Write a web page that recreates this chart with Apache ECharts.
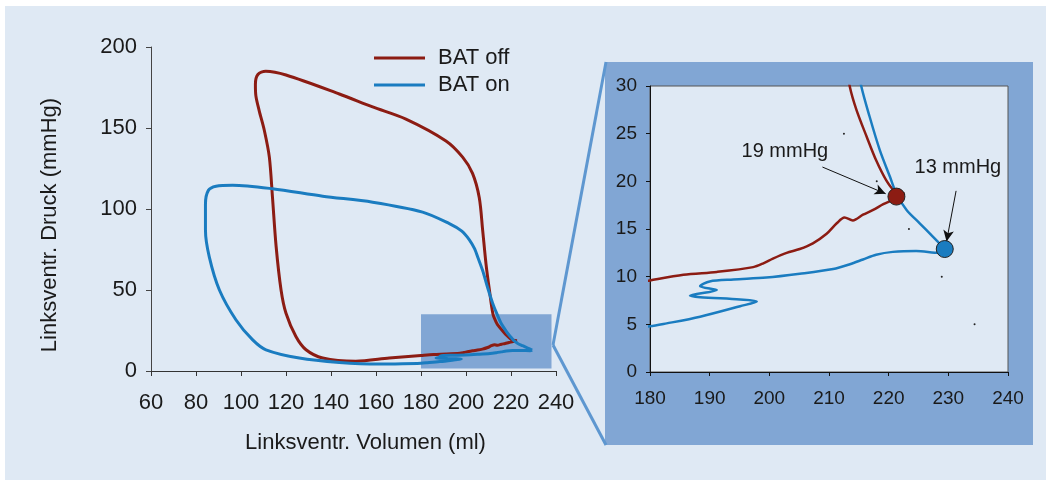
<!DOCTYPE html>
<html><head><meta charset="utf-8">
<script src="https://cdn.jsdelivr.net/npm/echarts@6/dist/echarts.min.js"></script>
<style>html,body{margin:0;padding:0;background:#fff}#c{width:1047px;height:480px}</style>
</head><body><div id="c"></div>
<script>
// BAT off loop (volume ml, pressure mmHg), time order from end-diastole
const offVolume = [222.7,221.0,219.6,217.9,216.3,214.6,213.5,212.0,210.4,208.9,207.4,205.9,202.9,198.5,191.1,173.3,158.5,143.7,120.0,111.0,107.5,106.4,106.6,108.1,110.4,112.6,114.0,115.6,117.8,120.0,124.4,128.9,136.3,151.0,165.9,180.0,185.6,191.2,197.3,199.0,200.6,202.9,205.1,207.3,209.6,211.3,212.6,214.0,215.7,217.4,219.1,220.5,222.7];
const offPressure = [18.7,19.0,20.1,22.2,24.7,27.5,29.9,35.0,50.0,66.0,87.0,107.0,122.0,132.0,142.0,155.5,163.0,171.0,182.7,185.0,183.0,177.0,170.0,160.6,148.3,132.0,107.0,77.0,50.0,35.6,21.3,13.1,8.0,6.0,8.0,9.6,10.2,10.5,11.0,11.4,11.9,12.5,12.9,13.5,14.5,15.6,16.2,15.9,16.5,17.0,17.6,18.0,18.7];
// BAT on loop
const onVolume = [229.4,227.4,225.2,223.0,221.3,220.2,218.5,216.8,215.4,213.5,211.8,209.5,207.4,205.2,203.8,201.5,198.0,192.6,180.7,158.5,136.3,114.0,96.3,88.9,85.5,84.2,84.2,85.9,90.4,97.8,105.2,111.1,125.9,143.7,161.5,172.0,180.0,182.8,188.4,195.1,197.9,195.1,188.4,186.7,191.2,188.4,190.0,194.0,199.5,205.1,210.7,213.5,215.7,217.9,220.7,224.6,228.5,229.4];
const onPressure = [12.9,14.2,15.6,17.0,18.7,20.5,23.3,26.8,30.0,36.0,42.0,52.0,62.0,70.4,75.5,81.0,86.5,91.0,98.1,104.2,107.9,112.5,114.7,114.1,111.5,103.0,87.0,70.4,50.0,31.5,19.2,13.1,8.0,5.3,4.3,4.5,4.8,5.1,5.8,6.9,7.4,7.6,7.85,8.0,8.6,9.0,9.5,9.7,9.9,10.3,10.8,11.3,11.8,12.3,12.6,12.7,12.5,12.9];
// end-diastolic points
const edVolume = [221.3, 229.4];
const edPressure = [18.4, 12.9];
const edLabels = ['19 mmHg', '13 mmHg'];
const labelVolume = [202.6, 231.6];
const labelPressure = [23.1, 21.5];
const arrowFromVolume = [208.9, 231.3];
const arrowFromPressure = [21.5, 19.0];
const arrowToVolume = [219.5, 229.7];
const arrowToPressure = [18.7, 13.7];
// small specks in inset
const speckVolume = [212.5, 218.0, 223.4, 228.9, 234.4];
const speckPressure = [25.0, 20.0, 15.0, 10.0, 5.0];
// zoom window in main chart
const zoomVolume = [180, 238];
const zoomPressure = [1.5, 35];

const RED = '#8c1c13', BLUE = '#1a7cc0', FONT = 'Liberation Sans, Arial, sans-serif';
const zip = (a, b) => a.map((v, i) => [v, b[i]]);

const chart = echarts.init(document.getElementById('c'), null, {renderer: 'canvas'});
const tickStyle = (size) => ({color: '#1a1a1a', fontSize: size, fontFamily: FONT});
chart.setOption({
  animation: false,
  backgroundColor: '#ffffff',
  textStyle: {fontFamily: FONT},
  graphic: [
    {type: 'rect', z: -20, shape: {x: 5, y: 6, width: 1041, height: 474}, style: {fill: '#dfe9f4'}},
    {type: 'rect', z: -10, shape: {x: 605, y: 62, width: 428, height: 383}, style: {fill: '#81a6d4'}},
    {type: 'line', z: -5, shape: {x1: 553, y1: 345, x2: 606, y2: 62}, style: {stroke: '#5e97d0', lineWidth: 3}},
    {type: 'line', z: -5, shape: {x1: 553, y1: 345, x2: 606, y2: 445}, style: {stroke: '#5e97d0', lineWidth: 3}}
  ],
  legend: {
    data: ['BAT off', 'BAT on'], orient: 'vertical', left: 374, top: 47, padding: 0,
    icon: 'rect', itemWidth: 51, itemHeight: 3, itemGap: 5,
    textStyle: {fontSize: 22, color: '#1a1a1a', fontFamily: FONT, padding: [0, 0, 0, 8]}
  },
  grid: [
    {left: 151, top: 47, width: 405, height: 324},
    {left: 650, top: 86, width: 358, height: 286, show: true, backgroundColor: '#dfe9f4', borderColor: '#555', borderWidth: 1}
  ],
  xAxis: [
    {type: 'value', gridIndex: 0, min: 60, max: 240, interval: 20,
     name: 'Linksventr. Volumen (ml)', nameLocation: 'middle', nameGap: 61,
     nameTextStyle: {fontSize: 22, color: '#1a1a1a', fontFamily: FONT, padding: [0, 0, 0, 24]},
     axisLine: {lineStyle: {color: '#333', width: 1}}, axisTick: {length: 5, lineStyle: {color: '#333'}},
     axisLabel: Object.assign({margin: 21}, tickStyle(22)), splitLine: {show: false}},
    {type: 'value', gridIndex: 1, min: 180, max: 240, interval: 10,
     axisLine: {lineStyle: {color: '#111', width: 1}}, axisTick: {length: 4, lineStyle: {color: '#111'}},
     axisLabel: Object.assign({margin: 17}, tickStyle(19)), splitLine: {show: false}},
  ],
  yAxis: [
    {type: 'value', gridIndex: 0, min: 0, max: 200, interval: 50,
     name: 'Linksventr. Druck (mmHg)', nameLocation: 'middle', nameGap: 90,
     nameTextStyle: {fontSize: 22, color: '#1a1a1a', fontFamily: FONT, padding: [0, 32, 0, 0]},
     axisLine: {show: true, lineStyle: {color: '#444', width: 1}}, axisTick: {show: true, length: 5, lineStyle: {color: '#444'}},
     axisLabel: Object.assign({margin: 14}, tickStyle(22)), splitLine: {show: false}},
    {type: 'value', gridIndex: 1, min: 0, max: 30, interval: 5,
     axisLine: {show: true, lineStyle: {color: '#111', width: 1}}, axisTick: {show: true, length: 4, lineStyle: {color: '#111'}},
     axisLabel: Object.assign({margin: 13}, tickStyle(19)), splitLine: {show: false}}
  ],
  series: [
    {type: 'line', name: 'BAT off', xAxisIndex: 0, yAxisIndex: 0, data: zip(offVolume, offPressure),
     showSymbol: false, smooth: 0.3, lineStyle: {color: RED, width: 3}, itemStyle: {color: RED}, z: 3,
     markArea: {silent: true, itemStyle: {color: '#81a6d4', opacity: 1},
       data: [[{coord: [zoomVolume[0], zoomPressure[0]]}, {coord: [zoomVolume[1], zoomPressure[1]]}]]}},
    {type: 'line', name: 'BAT on', xAxisIndex: 0, yAxisIndex: 0, data: zip(onVolume, onPressure),
     showSymbol: false, smooth: 0.3, lineStyle: {color: BLUE, width: 3}, itemStyle: {color: BLUE}, z: 3},
    {type: 'line', name: 'BAT off', xAxisIndex: 1, yAxisIndex: 1, data: zip(offVolume, offPressure),
     showSymbol: false, smooth: 0.3, clip: true, lineStyle: {color: RED, width: 2.5}, itemStyle: {color: RED}, z: 3},
    {type: 'line', name: 'BAT on', xAxisIndex: 1, yAxisIndex: 1, data: zip(onVolume, onPressure),
     showSymbol: false, smooth: 0.3, clip: true, lineStyle: {color: BLUE, width: 2.5}, itemStyle: {color: BLUE}, z: 3},
    {type: 'scatter', name: 'specks', xAxisIndex: 1, yAxisIndex: 1, data: zip(speckVolume, speckPressure),
     symbolSize: 2, itemStyle: {color: '#222', opacity: 1}, silent: true, z: 2},
    {type: 'scatter', name: 'ed', xAxisIndex: 1, yAxisIndex: 1, z: 5,
     data: edVolume.map((v, i) => ({value: [v, edPressure[i]], itemStyle: {color: i === 0 ? RED : BLUE, opacity: 1, borderColor: '#222', borderWidth: 1}})),
     symbolSize: 17, itemStyle: {opacity: 1, borderColor: '#222', borderWidth: 1},
     markLine: {silent: true, symbol: ['none', 'arrow'], symbolSize: [8, 11], label: {show: false},
       lineStyle: {color: '#111', width: 1, type: 'solid', opacity: 1},
       data: arrowFromVolume.map((v, i) => [{coord: [v, arrowFromPressure[i]]}, {coord: [arrowToVolume[i], arrowToPressure[i]]}])}},
    {type: 'scatter', name: 'labels', xAxisIndex: 1, yAxisIndex: 1, z: 6, symbolSize: 1,
     itemStyle: {color: 'rgba(0,0,0,0)', opacity: 1},
     data: labelVolume.map((v, i) => ({value: [v, labelPressure[i]], name: edLabels[i]})),
     label: {show: true, position: 'inside', formatter: p => p.name, fontSize: 20, color: '#1a1a1a', fontFamily: FONT}}
  ]
});
</script></body></html>
